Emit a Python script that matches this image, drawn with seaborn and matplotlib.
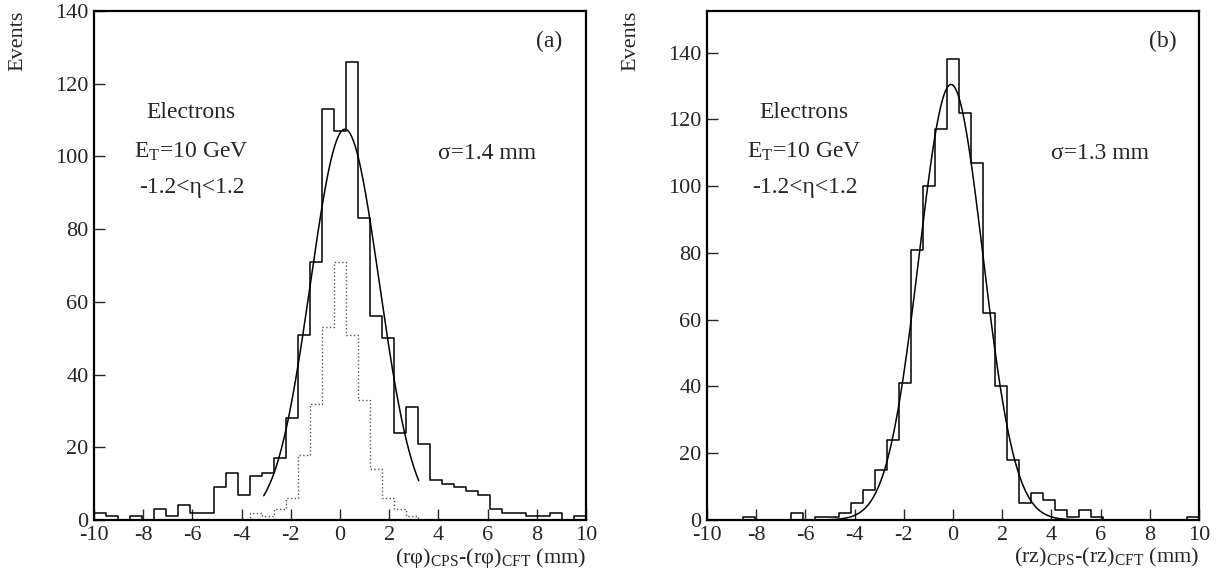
import numpy as np
import pandas as pd
import matplotlib
matplotlib.use("Agg")
import matplotlib.pyplot as plt
import seaborn as sns

# ---------------- data ----------------
x_min, x_max, n_bins = -10.0, 10.0, 41

# (a) r-phi residuals, solid histogram (all), dotted histogram (subset)
counts_a = [2, 1, 0, 1, 0, 3, 1, 4, 2, 2,
            9, 13, 7, 12, 13, 17, 28, 51, 71, 113,
            107, 126, 83, 56, 50, 24, 31, 21, 11, 10,
            9, 8, 7, 3, 2, 2, 1, 1, 2, 0, 1]
counts_a_dot = [0, 0, 0, 0, 0, 0, 0, 0, 0, 0,
                0, 0, 0, 2, 1, 3, 6, 18, 32, 53,
                71, 51, 33, 14, 6, 3, 1, 0, 0, 0,
                0, 0, 0, 0, 0, 0, 0, 0, 0, 0, 0]
# (b) r-z residuals
counts_b = [0, 0, 0, 1, 0, 0, 0, 2, 0, 1,
            1, 2, 5, 9, 15, 24, 41, 81, 100, 117,
            138, 122, 107, 62, 40, 18, 5, 8, 6, 3,
            1, 3, 1, 0, 0, 0, 0, 0, 0, 0, 1]

# Gaussian fit parameters
fit_a = dict(amp=107.5, mu=0.2, sigma=1.4, lo=-3.1, hi=3.2)
fit_b = dict(amp=130.5, mu=-0.08, sigma=1.3, lo=-10.0, hi=10.0)

x_ticks = [-10, -8, -6, -4, -2, 0, 2, 4, 6, 8, 10]
y_ticks = [0, 20, 40, 60, 80, 100, 120, 140]
ylims = [(0, 140), (0, 152.5)]
panel_tags = ["(a)", "(b)"]
sigma_labels = ["σ=1.4 mm", "σ=1.3 mm"]
info_lines = ["Electrons", "E$_{\\mathrm{T}}$=10 GeV", "-1.2<η<1.2"]
xlabels = ["(rφ)$_{\\mathrm{CPS}}$-(rφ)$_{\\mathrm{CFT}}$ (mm)",
           "(rz)$_{\\mathrm{CPS}}$-(rz)$_{\\mathrm{CFT}}$ (mm)"]
ylabel = "Events"

# ---------------- style ----------------
sns.set_style("ticks")
plt.rcParams["font.family"] = ["Liberation Serif", "DejaVu Serif"]
plt.rcParams["mathtext.fontset"] = "custom"
plt.rcParams["mathtext.rm"] = "Liberation Serif"
plt.rcParams["mathtext.it"] = "Liberation Serif:italic"
plt.rcParams["axes.unicode_minus"] = False

edges = [float(e) for e in np.linspace(x_min, x_max, n_bins + 1)]
centers = [0.5 * (edges[k] + edges[k + 1]) for k in range(n_bins)]

fig = plt.figure(figsize=(12.22, 5.82), dpi=100)
ax_a = fig.add_axes([94 / 1222, 62 / 582, 492 / 1222, 509 / 582])
ax_b = fig.add_axes([707 / 1222, 62 / 582, 492 / 1222, 509 / 582])


def gauss_df(p):
    xs = np.linspace(p["lo"], p["hi"], 400)
    ys = p["amp"] * np.exp(-0.5 * ((xs - p["mu"]) / p["sigma"]) ** 2)
    return pd.DataFrame({"x": xs, "y": ys})


def draw_hist(ax, counts, **kw):
    df = pd.DataFrame({"x": centers, "w": counts})
    sns.histplot(data=df, x="x", weights="w", bins=edges, element="step",
                 fill=False, ax=ax, **kw)


panels = [(ax_a, counts_a, counts_a_dot, fit_a),
          (ax_b, counts_b, None, fit_b)]

for i, (ax, cnt, cnt_dot, fit) in enumerate(panels):
    if cnt_dot is not None:
        draw_hist(ax, cnt_dot, color="#555555", linewidth=1.0, linestyle=":")
    draw_hist(ax, cnt, color="black", linewidth=1.1)
    sns.lineplot(data=gauss_df(fit), x="x", y="y", ax=ax, color="black",
                 linewidth=1.1, sort=False)

    ax.set_xlim(x_min, x_max)
    ax.set_ylim(*ylims[i])
    ax.set_xticks(x_ticks)
    ax.set_xticklabels([str(t) for t in x_ticks])
    ax.set_yticks(y_ticks)
    ax.set_yticklabels([str(t) for t in y_ticks])
    ax.tick_params(direction="in", length=8, width=1.0, labelsize=16,
                   top=False, right=False, pad=4)
    for s in ax.spines.values():
        s.set_visible(True)
        s.set_linewidth(1.6)
        s.set_color("black")

    ax.set_xlabel(xlabels[i], fontsize=16, loc="right", labelpad=1)
    ax.set_ylabel(ylabel, fontsize=16, loc="top")
    ax.yaxis.set_label_coords(-0.136, 1.0)

    ax.text(0.926, 0.94, panel_tags[i], transform=ax.transAxes,
            ha="center", va="center", fontsize=17)
    ax.text(0.798, 0.72, sigma_labels[i], transform=ax.transAxes,
            ha="center", va="center", fontsize=17)
    for txt, yy in zip(info_lines, [0.80, 0.723, 0.654]):
        ax.text(0.198, yy, txt, transform=ax.transAxes,
                ha="center", va="center", fontsize=17)

fig.savefig("out.png", dpi=100)
